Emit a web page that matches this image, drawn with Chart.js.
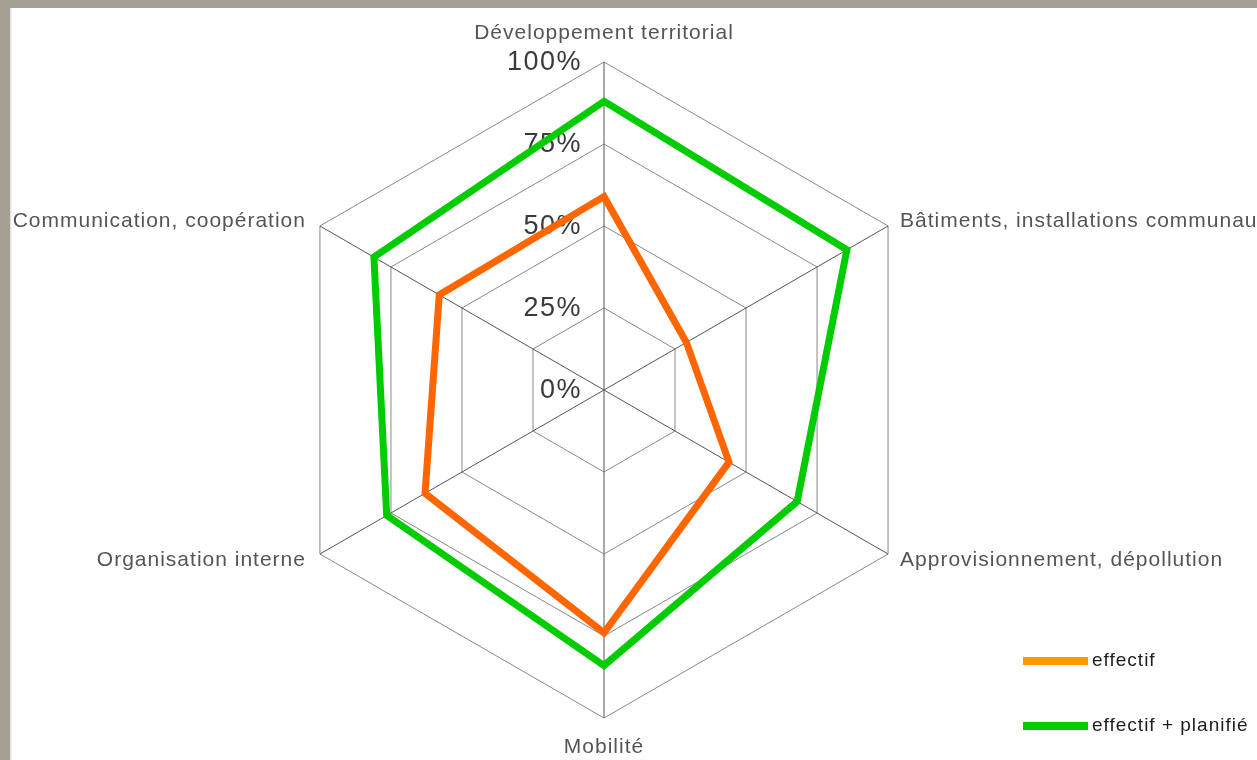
<!DOCTYPE html>
<html>
<head>
<meta charset="utf-8">
<script src="https://cdn.jsdelivr.net/npm/chart.js@4"></script>
<style>
  html, body { margin: 0; padding: 0; }
  body { width: 1257px; height: 760px; background: #a69f93; overflow: hidden; position: relative; }
  #frame { position: absolute; left: 10px; top: 8px; width: 1247px; height: 752px; background: #ffffff; box-shadow: inset 2px 0 2px -1px #d8d8d8; }
  #radar { position: absolute; left: 0; top: 0; }
</style>
</head>
<body>
<div id="frame">
  <canvas id="radar" width="1247" height="752"></canvas>
</div>
<script>
const categories = [
  "Développement territorial",
  "Bâtiments, installations communaux",
  "Approvisionnement, dépollution",
  "Mobilité",
  "Organisation interne",
  "Communication, coopération"
];

const effectif = [59, 29, 44, 74, 63, 58];
const effectifPlanifie = [88, 85.5, 68, 84, 76.5, 81];

const tickValues = [0, 25, 50, 75, 100];

const seriesNames = ["effectif", "effectif + planifié"];
const legendColors = ["#ff9900", "#00cc00"];

const labelFont = "21px 'Liberation Sans', Arial, sans-serif";

// axis labels and percentage ticks, drawn from the radial scale
const radarText = {
  id: "radarText",
  beforeDatasetsDraw(chart) {
    const ctx = chart.ctx;
    const scale = chart.scales.r;
    ctx.save();
    ctx.font = "27px 'Liberation Sans', Arial, sans-serif";
    ctx.letterSpacing = "1.5px";
    ctx.fillStyle = "#3a3a3a";
    ctx.textAlign = "right";
    ctx.textBaseline = "middle";
    tickValues.forEach(v => {
      const y = scale.yCenter - scale.getDistanceFromCenterForValue(v);
      ctx.fillText(v + "%", scale.xCenter - 22, y + 1);
    });
    ctx.restore();
  },
  afterDraw(chart) {
    const ctx = chart.ctx;
    const scale = chart.scales.r;
    ctx.save();
    ctx.font = labelFont;
    ctx.letterSpacing = "1px";
    ctx.fillStyle = "#555555";
    ctx.textBaseline = "middle";
    categories.forEach((label, i) => {
      const p = scale.getPointPositionForValue(i, 100);
      let x = p.x, y = p.y;
      if (Math.abs(p.x - scale.xCenter) < 2) {
        ctx.textAlign = "center";
        y += p.y < scale.yCenter ? -29 : 29;
      } else if (p.x > scale.xCenter) {
        ctx.textAlign = "left";
        x += 12;
        y += p.y < scale.yCenter ? -5 : 6;
      } else {
        ctx.textAlign = "right";
        x -= 14;
        y += p.y < scale.yCenter ? -5 : 6;
      }
      ctx.fillText(label, x, y);
    });

    // legend
    ctx.font = "19px 'Liberation Sans', Arial, sans-serif";
    ctx.letterSpacing = "1px";
    ctx.fillStyle = "#1e1e1e";
    ctx.textAlign = "left";
    seriesNames.forEach((name, i) => {
      const y = 653 + i * 65;
      ctx.strokeStyle = legendColors[i];
      ctx.lineWidth = 8;
      ctx.beginPath();
      ctx.moveTo(1013, y);
      ctx.lineTo(1078, y);
      ctx.stroke();
      ctx.fillText(name, 1082, y);
    });
    ctx.restore();
  }
};

new Chart(document.getElementById("radar"), {
  type: "radar",
  data: {
    labels: categories,
    datasets: [
      {
        label: seriesNames[0],
        data: effectif,
        borderColor: "#ff6600",
        borderWidth: 7,
        fill: false,
        pointRadius: 0
      },
      {
        label: seriesNames[1],
        data: effectifPlanifie,
        borderColor: "#00cc00",
        borderWidth: 7,
        fill: false,
        pointRadius: 0
      }
    ]
  },
  options: {
    responsive: false,
    animation: false,
    layout: {
      padding: { left: 266, right: 325, top: 54, bottom: 42 }
    },
    elements: {
      line: { tension: 0, borderJoinStyle: "miter" }
    },
    plugins: {
      legend: { display: false },
      tooltip: { enabled: false }
    },
    scales: {
      r: {
        min: 0,
        max: 100,
        ticks: { display: false, stepSize: 25 },
        pointLabels: { display: false },
        grid: { color: "#888888", lineWidth: 1 },
        angleLines: { color: "#555555", lineWidth: 1 }
      }
    }
  },
  plugins: [radarText]
});
</script>
</body>
</html>
